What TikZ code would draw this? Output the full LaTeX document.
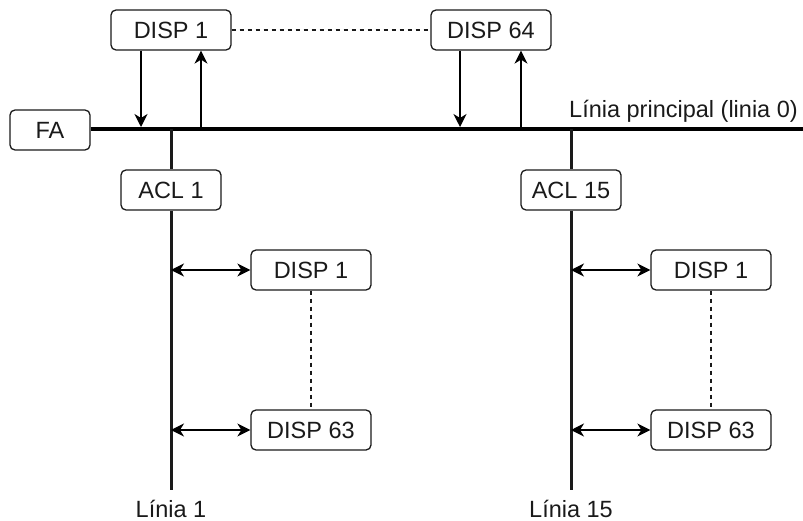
\documentclass[tikz,border=0pt]{standalone}
\usepackage{fontspec}
\setmainfont{Liberation Sans}
\usetikzlibrary{arrows.meta}
\definecolor{ink}{HTML}{1A1A1A}
\tikzset{
  box/.style={draw=ink, line width=1.3pt, rounded corners=5pt, fill=white,
    minimum width=120pt, minimum height=40pt, inner sep=0pt,
    font=\fontsize{23.5}{26}\selectfont, text=ink},
  smallbox/.style={box, minimum width=100pt},
  fabox/.style={box, minimum width=80pt},
  lbl/.style={font=\fontsize{23.5}{26}\selectfont, text=ink, inner sep=0pt},
  mainbus/.style={draw=black, line width=4.5pt},
  bus/.style={draw=ink, line width=3pt},
  tip/.tip={Stealth[length=13pt, width=13pt, inset=4pt]},
  link/.style={draw=black, line width=1.3pt},
  arr/.style={link, -tip},
  biarr/.style={link, tip-tip},
  dots/.style={draw=ink, line width=1.2pt, dash pattern=on 4pt off 4pt}
}
\begin{document}
\begin{tikzpicture}[x=1pt, y=-1pt]
  \useasboundingbox (0,0) rectangle (803,521);

  % main line and its devices
  \node[fabox] (fa) at (50,130) {FA};
  \coordinate (mainend) at (803,129);
  \path[mainbus] (fa.east |- mainend) -- (mainend);
  \node[lbl, anchor=east] (mainlbl) at (798,111) {Línia principal (linia 0)};

  \node[box] (d1) at (171,30) {DISP 1};
  \node[box] (d64) at (491,30) {DISP 64};
  \path[dots] (d1.east) -- (d64.west);

  \coordinate (d1in) at (141,127);
  \coordinate (d1out) at (201,129);
  \coordinate (d64in) at (460,127);
  \coordinate (d64out) at (521,129);
  \draw[arr] (d1.south -| d1in) -- (d1in);
  \draw[arr] (d1out) -- (d1.south -| d1out);
  \draw[arr] (d64.south -| d64in) -- (d64in);
  \draw[arr] (d64out) -- (d64.south -| d64out);

  % line 1
  \node[smallbox] (acl1) at (171,190) {ACL 1};
  \coordinate (b1top) at (171,129);
  \coordinate (b1end) at (171,490);
  \path[bus] (b1top) -- (acl1.north);
  \path[bus] (acl1.south) -- (b1end);
  \node[lbl] (l1lbl) at (171,509) {Línia 1};

  \node[box] (l1a) at (311,270) {DISP 1};
  \node[box] (l1b) at (311,430) {DISP 63};
  \draw[biarr] (l1a.west -| b1top) -- (l1a.west);
  \draw[biarr] (l1b.west -| b1top) -- (l1b.west);
  \path[dots] (l1a.south) -- (l1b.north);

  % line 15
  \node[smallbox] (acl15) at (571,190) {ACL 15};
  \coordinate (b15top) at (571,129);
  \coordinate (b15end) at (571,490);
  \path[bus] (b15top) -- (acl15.north);
  \path[bus] (acl15.south) -- (b15end);
  \node[lbl] (l15lbl) at (571,509) {Línia 15};

  \node[box] (l15a) at (711,270) {DISP 1};
  \node[box] (l15b) at (711,430) {DISP 63};
  \draw[biarr] (l15a.west -| b15top) -- (l15a.west);
  \draw[biarr] (l15b.west -| b15top) -- (l15b.west);
  \path[dots] (l15a.south) -- (l15b.north);
\end{tikzpicture}
\end{document}
